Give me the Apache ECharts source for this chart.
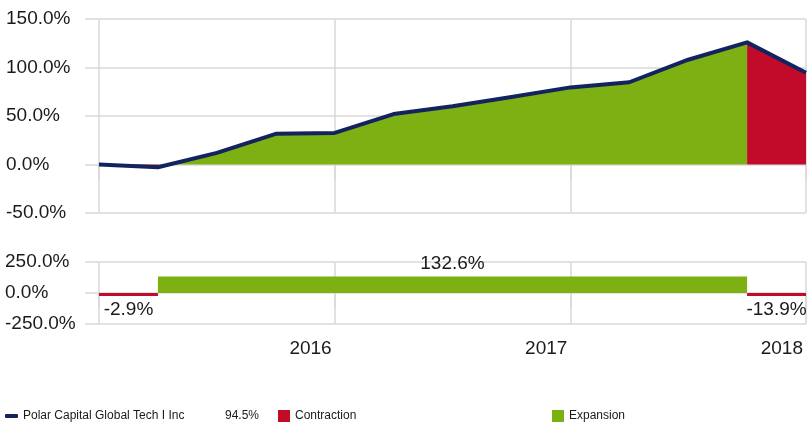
<!DOCTYPE html>
<html>
<head>
<meta charset="utf-8">
<script src="https://cdn.jsdelivr.net/npm/echarts@6/dist/echarts.min.js"></script>
<style>
html, body { margin: 0; padding: 0; background: #fff; }
#chart { width: 807px; height: 422px; }
</style>
</head>
<body>
<div id="chart"></div>
<script>
// quarterly points, Jan 2015 - Jan 2018
const dates = ['2015-01', '2015-04', '2015-07', '2015-10', '2016-01', '2016-04', '2016-07',
  '2016-10', '2017-01', '2017-04', '2017-07', '2017-10', '2018-01'];
const fundName = 'Polar Capital Global Tech I Inc';
const fundValues = [0, -2.9, 12, 31.6, 32.6, 52, 60, 69.5, 79.5, 84.8, 108, 125.9, 94.5];

// phases: [start index, end index, change %]
const contractionPhases = [[0, 1, -2.9], [11, 12, -13.9]];
const expansionPhases = [[1, 11, 132.6]];

const topTicks = [-50, 0, 50, 100, 150];
const bottomTicks = [-250, 0, 250];

const navy = '#13235f';
const red = '#c20b2a';
const green = '#7db013';
const gridGray = '#d9d9d9';
const fontFamily = 'Arial, "Liberation Sans", sans-serif';

// area series: keep only the points that belong to each phase
function phaseArea(phases) {
  return fundValues.map((v, i) => phases.some(p => i >= p[0] && i <= p[1]) ? v : null);
}

const yearTick = (idx) => idx % 4 === 0;
const yearLabel = (idx) => idx > 0 && idx % 4 === 0;

function renderPhase(params, api) {
  const v = api.value(2);
  const p0 = api.coord([api.value(0), v]);
  const p1 = api.coord([api.value(1), 0]);
  let y = Math.min(p0[1], p1[1]);
  let h = Math.abs(p1[1] - p0[1]);
  if (h < 3) { h = 3; if (v >= 0) y = p1[1] - 3; }
  const text = v.toFixed(1) + '%';
  let cx = (p0[0] + p1[0]) / 2;
  const half = text.length * 5.5;
  if (cx + half > api.getWidth() + 3) cx = api.getWidth() + 3 - half;
  return {
    type: 'group',
    children: [
      { type: 'rect', shape: { x: p0[0], y: y, width: p1[0] - p0[0], height: h },
        style: { fill: api.visual('color') } },
      { type: 'text', style: {
          text: text, x: cx, y: v >= 0 ? y - 3 : y + h + 4,
          align: 'center', verticalAlign: v >= 0 ? 'bottom' : 'top',
          font: '19px ' + fontFamily, fill: '#1a1a1a' } }
    ]
  };
}

const legendText = { fontFamily: fontFamily, fontSize: 12, color: '#1a1a1a' };

const option = {
  animation: false,
  textStyle: { fontFamily: fontFamily },
  grid: [
    { left: 99, right: 1, top: 19, height: 194 },
    { left: 99, right: 1, top: 262, height: 62 }
  ],
  xAxis: [
    {
      gridIndex: 0, type: 'category', data: dates, boundaryGap: false,
      axisLine: { show: false },
      axisTick: { show: true, length: 15, interval: yearTick, lineStyle: { color: gridGray, width: 1.5 } },
      axisLabel: { show: false },
      splitLine: { show: true, interval: yearTick, lineStyle: { color: gridGray, width: 1.5 } }
    },
    {
      gridIndex: 1, type: 'category', data: dates, boundaryGap: false,
      axisLine: { show: false },
      axisTick: { show: true, length: 14, interval: yearTick, lineStyle: { color: gridGray, width: 1.5 } },
      axisLabel: {
        interval: yearLabel, formatter: v => v.slice(0, 4), align: 'right',
        padding: [0, 3, 0, 0], fontSize: 19, color: '#1a1a1a', margin: 15
      },
      splitLine: { show: true, interval: yearTick, lineStyle: { color: gridGray, width: 1.5 } }
    }
  ],
  yAxis: [
    {
      gridIndex: 0, type: 'value',
      min: topTicks[0], max: topTicks[topTicks.length - 1], interval: 50,
      axisLine: { show: false },
      axisTick: { show: true, length: 14, lineStyle: { color: gridGray, width: 1.5 } },
      axisLabel: { formatter: v => v.toFixed(1) + '%', align: 'left', margin: 93, fontSize: 19, color: '#1a1a1a' },
      splitLine: { lineStyle: { color: gridGray, width: 1.5 } }
    },
    {
      gridIndex: 1, type: 'value',
      min: bottomTicks[0], max: bottomTicks[bottomTicks.length - 1], interval: 250,
      axisLine: { show: false },
      axisTick: { show: true, length: 14, lineStyle: { color: gridGray, width: 1.5 } },
      axisLabel: { formatter: v => v.toFixed(1) + '%', align: 'left', margin: 94, fontSize: 19, color: '#1a1a1a' },
      splitLine: { lineStyle: { color: gridGray, width: 1.5 } }
    }
  ],
  legend: [
    {
      data: [fundName], left: 0, top: 405, icon: 'roundRect', itemWidth: 13, itemHeight: 4,
      selectedMode: false,
      formatter: name => '{a|' + name + '}{b|' + fundValues[fundValues.length - 1].toFixed(1) + '%}',
      textStyle: Object.assign({ rich: { a: { width: 202, fontSize: 12 }, b: { fontSize: 12 } } }, legendText)
    },
    {
      data: ['Contraction'], left: 273, top: 405, icon: 'rect', itemWidth: 12, itemHeight: 12,
      selectedMode: false, textStyle: legendText
    },
    {
      data: ['Expansion'], left: 547, top: 405, icon: 'rect', itemWidth: 12, itemHeight: 12,
      selectedMode: false, textStyle: legendText
    }
  ],
  series: [
    {
      name: 'Expansion area', type: 'line', xAxisIndex: 0, yAxisIndex: 0,
      data: phaseArea(expansionPhases), symbol: 'none', connectNulls: false,
      lineStyle: { width: 0 }, areaStyle: { color: green, opacity: 1, origin: 0 }
    },
    {
      name: 'Contraction area', type: 'line', xAxisIndex: 0, yAxisIndex: 0,
      data: phaseArea(contractionPhases), symbol: 'none', connectNulls: false,
      lineStyle: { width: 0 }, areaStyle: { color: red, opacity: 1, origin: 0 }
    },
    {
      name: fundName, type: 'line', xAxisIndex: 0, yAxisIndex: 0,
      data: fundValues, symbol: 'none', color: navy,
      lineStyle: { width: 4, color: navy, join: 'round' }, z: 5
    },
    {
      name: 'Contraction', type: 'custom', xAxisIndex: 1, yAxisIndex: 1,
      data: contractionPhases, color: red, renderItem: renderPhase
    },
    {
      name: 'Expansion', type: 'custom', xAxisIndex: 1, yAxisIndex: 1,
      data: expansionPhases, color: green, renderItem: renderPhase
    }
  ]
};

const chart = echarts.init(document.getElementById('chart'));
chart.setOption(option);
</script>
</body>
</html>
